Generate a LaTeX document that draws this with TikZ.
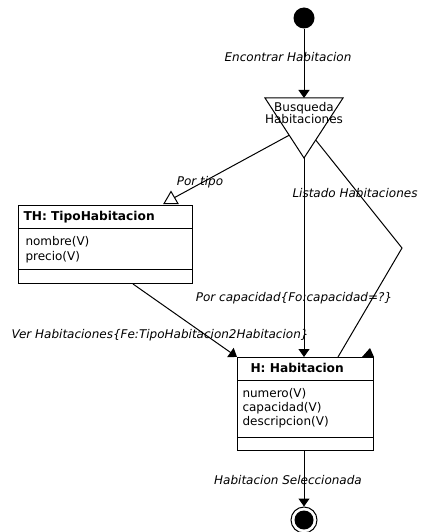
\documentclass[tikz,border=0pt]{standalone}
\usepackage{fontspec}
\setmainfont{DejaVu Sans}
\usetikzlibrary{arrows.meta,shapes.geometric,calc}
\begin{document}
\begin{tikzpicture}[x=1pt,y=-1pt,
  line width=1pt,
  every node/.style={font=\fontsize{12}{14}\selectfont},
  flow/.style={-{Triangle[length=8pt,width=11pt]}},
  lbl/.style={anchor=base,inner sep=0pt,font=\fontsize{12}{14}\selectfont\itshape},
  classbox/.style={draw,rectangle,anchor=north west,inner sep=0pt},
  title/.style={anchor=base west,inner sep=0pt,font=\fontsize{12.2}{14}\selectfont\bfseries},
  attr/.style={anchor=base west,inner sep=0pt},
]
\useasboundingbox (0,0) rectangle (422,532);

% initial state
\node[circle,fill,minimum size=21pt,inner sep=0pt] (ini) at (304,18) {};

% decision: Busqueda Habitaciones
\coordinate (dl) at (265,98);
\coordinate (dr) at (343,98);
\coordinate (dtop) at (304,98);
\coordinate (dapex) at (304,158);
\draw (dl) -- (dr) -- (dapex) -- cycle;
\node[align=center,inner sep=0pt,font=\fontsize{12}{12}\selectfont] (busq) at (304,113) {Busqueda\\Habitaciones};
\coordinate (dleft) at ($(dl)!0.62!(dapex)$);
\coordinate (dright) at ($(dr)!0.7!(dapex)$);

% class TH: TipoHabitacion
\node[classbox,minimum width=174pt,minimum height=78pt] (th) at (18,205) {};
\draw ($(th.north west)+(0,23)$) -- ($(th.north east)+(0,23)$);
\draw ($(th.north west)+(0,64)$) -- ($(th.north east)+(0,64)$);
\node[title] (thT) at (23,220.5) {TH: TipoHabitacion};
\node[attr] (thA1) at (25,245) {nombre(V)};
\node[attr] (thA2) at (25,260) {precio(V)};

% class H: Habitacion
\node[classbox,minimum width=136pt,minimum height=93pt] (hb) at (237,357) {};
\draw ($(hb.north west)+(0,23)$) -- ($(hb.north east)+(0,23)$);
\draw ($(hb.north west)+(0,80)$) -- ($(hb.north east)+(0,80)$);
\node[title] (hbT) at (250,372.5) {H: Habitacion};
\node[attr] (hbA1) at (242,397) {numero(V)};
\node[attr] (hbA2) at (242,411) {capacidad(V)};
\node[attr] (hbA3) at (242,425) {descripcion(V)};

% final state
\node[circle,draw,minimum size=26pt,inner sep=0pt] (fin) at (304,520) {};
\node[circle,fill,minimum size=19pt,inner sep=0pt] (finDot) at (fin) {};

% open head of "Por tipo"
\node[regular polygon,regular polygon sides=3,draw,minimum size=16pt,inner sep=0pt] (tipo) at (171,199.5) {};

% transitions
\draw[flow] (ini) -- (dtop);
\draw (dleft) -- (tipo);
\draw[flow] (dapex) -- (dapex |- hb.north);
\coordinate (bend) at (402,248);
\coordinate (hbin) at ($(hb.north west)+(101,0)$);
\draw (dright) -- (bend) -- (hbin);
\fill ($(hb.north east)+(-12,0)$) -- (hb.north east) -- ($(hb.north east)+(-4,-9)$) -- cycle;
\coordinate (thout) at ($(th.south west)+(115,0)$);
\draw[flow] (thout) -- (hb.north west);
\draw[flow] (hb.south -| fin) -- (fin.north);

% transition labels
\node[lbl] (l1) at (288,62) {Encontrar Habitacion};
\node[lbl] (l2) at (200,185) {Por tipo};
\node[lbl] (l3) at (355,197) {Listado Habitaciones};
\node[lbl] (l4) at (294,301) {Por capacidad\{Fo:capacidad=?\}};
\node[lbl] (l5) at (160,338) {Ver Habitaciones\{Fe:TipoHabitacion2Habitacion\}};
\node[lbl] (l6) at (288,484) {Habitacion Seleccionada};
\end{tikzpicture}
\end{document}
